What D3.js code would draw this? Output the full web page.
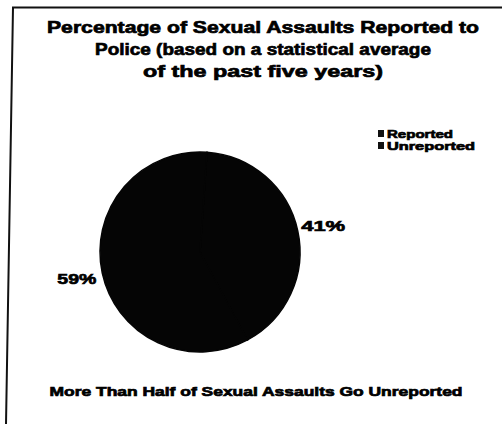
<!DOCTYPE html>
<html>
<head>
<meta charset="utf-8">
<script src="https://cdn.jsdelivr.net/npm/d3@7"></script>
<style>
  body { margin: 0; background: #fff; }
  text { font-family: "Liberation Sans", Arial, sans-serif; font-weight: bold; fill: #000; stroke: #000; stroke-width: 0.7; }
</style>
</head>
<body>
<svg width="502" height="424"></svg>
<script>
// data
const categories = ["Reported", "Unreported"];
const values = [41, 59];
const valueLabels = ["41%", "59%"];
const titleLines = ["Percentage of Sexual Assaults Reported to",
                    "Police (based on a statistical average",
                    "of the past five years)"];
const footer = "More Than Half of Sexual Assaults Go Unreported";

function draw() {
    const svg = d3.select("svg");

    // frame (scanned page edge, slightly skewed)
    svg.append("path")
        .attr("d", "M502,7.5L13,7.5L6,424")
        .attr("fill", "none")
        .attr("stroke", "#111")
        .attr("stroke-width", 2);

    // title
    const titleW = [432, 336, 240];
    svg.append("g").selectAll("text")
        .data(titleLines)
        .enter().append("text")
        .attr("x", 263)
        .attr("y", (d, i) => 33 + i * 22)
        .attr("text-anchor", "middle")
        .attr("font-size", 17)
        .attr("textLength", (d, i) => titleW[i])
        .attr("lengthAdjust", "spacingAndGlyphs")
        .text(d => d);

    // pie (both slices printed black in the scan)
    const cx = 200, cy = 252, r = 100;
    const start = 4 * Math.PI / 180;
    const pie = d3.pie().sort(null).startAngle(start).endAngle(start + 2 * Math.PI).value(d => d)(values);
    const arc = d3.arc().innerRadius(0).outerRadius(r);
    const color = d3.scaleOrdinal().domain(categories).range(["#050505", "#050505"]);

    const g = svg.append("g").attr("transform", `translate(${cx},${cy})`);
    g.selectAll("path")
        .data(pie)
        .enter().append("path")
        .attr("d", arc)
        .attr("fill", (d, i) => color(categories[i]))
        .attr("stroke", (d, i) => color(categories[i]))
        .attr("stroke-width", 1.5);

    // labels outside
    const labelArc = d3.arc().innerRadius(r + 26).outerRadius(r + 26);
    g.selectAll("text")
        .data(pie)
        .enter().append("text")
        .attr("transform", d => `translate(${labelArc.centroid(d)})`)
        .attr("dy", "0.35em")
        .attr("text-anchor", "middle")
        .attr("font-size", 15)
        .attr("textLength", (d, i) => i === 0 ? 44 : 39)
        .attr("lengthAdjust", "spacingAndGlyphs")
        .text((d, i) => valueLabels[i]);

    // legend
    const legend = svg.append("g").attr("transform", "translate(378,128)");
    const item = legend.selectAll("g")
        .data(categories)
        .enter().append("g")
        .attr("transform", (d, i) => `translate(0,${i * 12})`);
    item.append("rect")
        .attr("width", 6)
        .attr("height", 7)
        .attr("y", 2)
        .attr("fill", "#111");
    item.append("text")
        .attr("x", 9)
        .attr("y", 9.5)
        .attr("font-size", 11.5)
        .attr("textLength", (d, i) => i === 0 ? 66 : 88)
        .attr("lengthAdjust", "spacingAndGlyphs")
        .text(d => d);

    // footer caption
    svg.append("text")
        .attr("x", 256)
        .attr("y", 396)
        .attr("text-anchor", "middle")
        .attr("font-size", 13)
        .attr("stroke-width", 0.4)
        .attr("textLength", 413)
        .attr("lengthAdjust", "spacingAndGlyphs")
        .text(footer);
}

document.addEventListener("DOMContentLoaded", draw);
</script>
</body>
</html>
